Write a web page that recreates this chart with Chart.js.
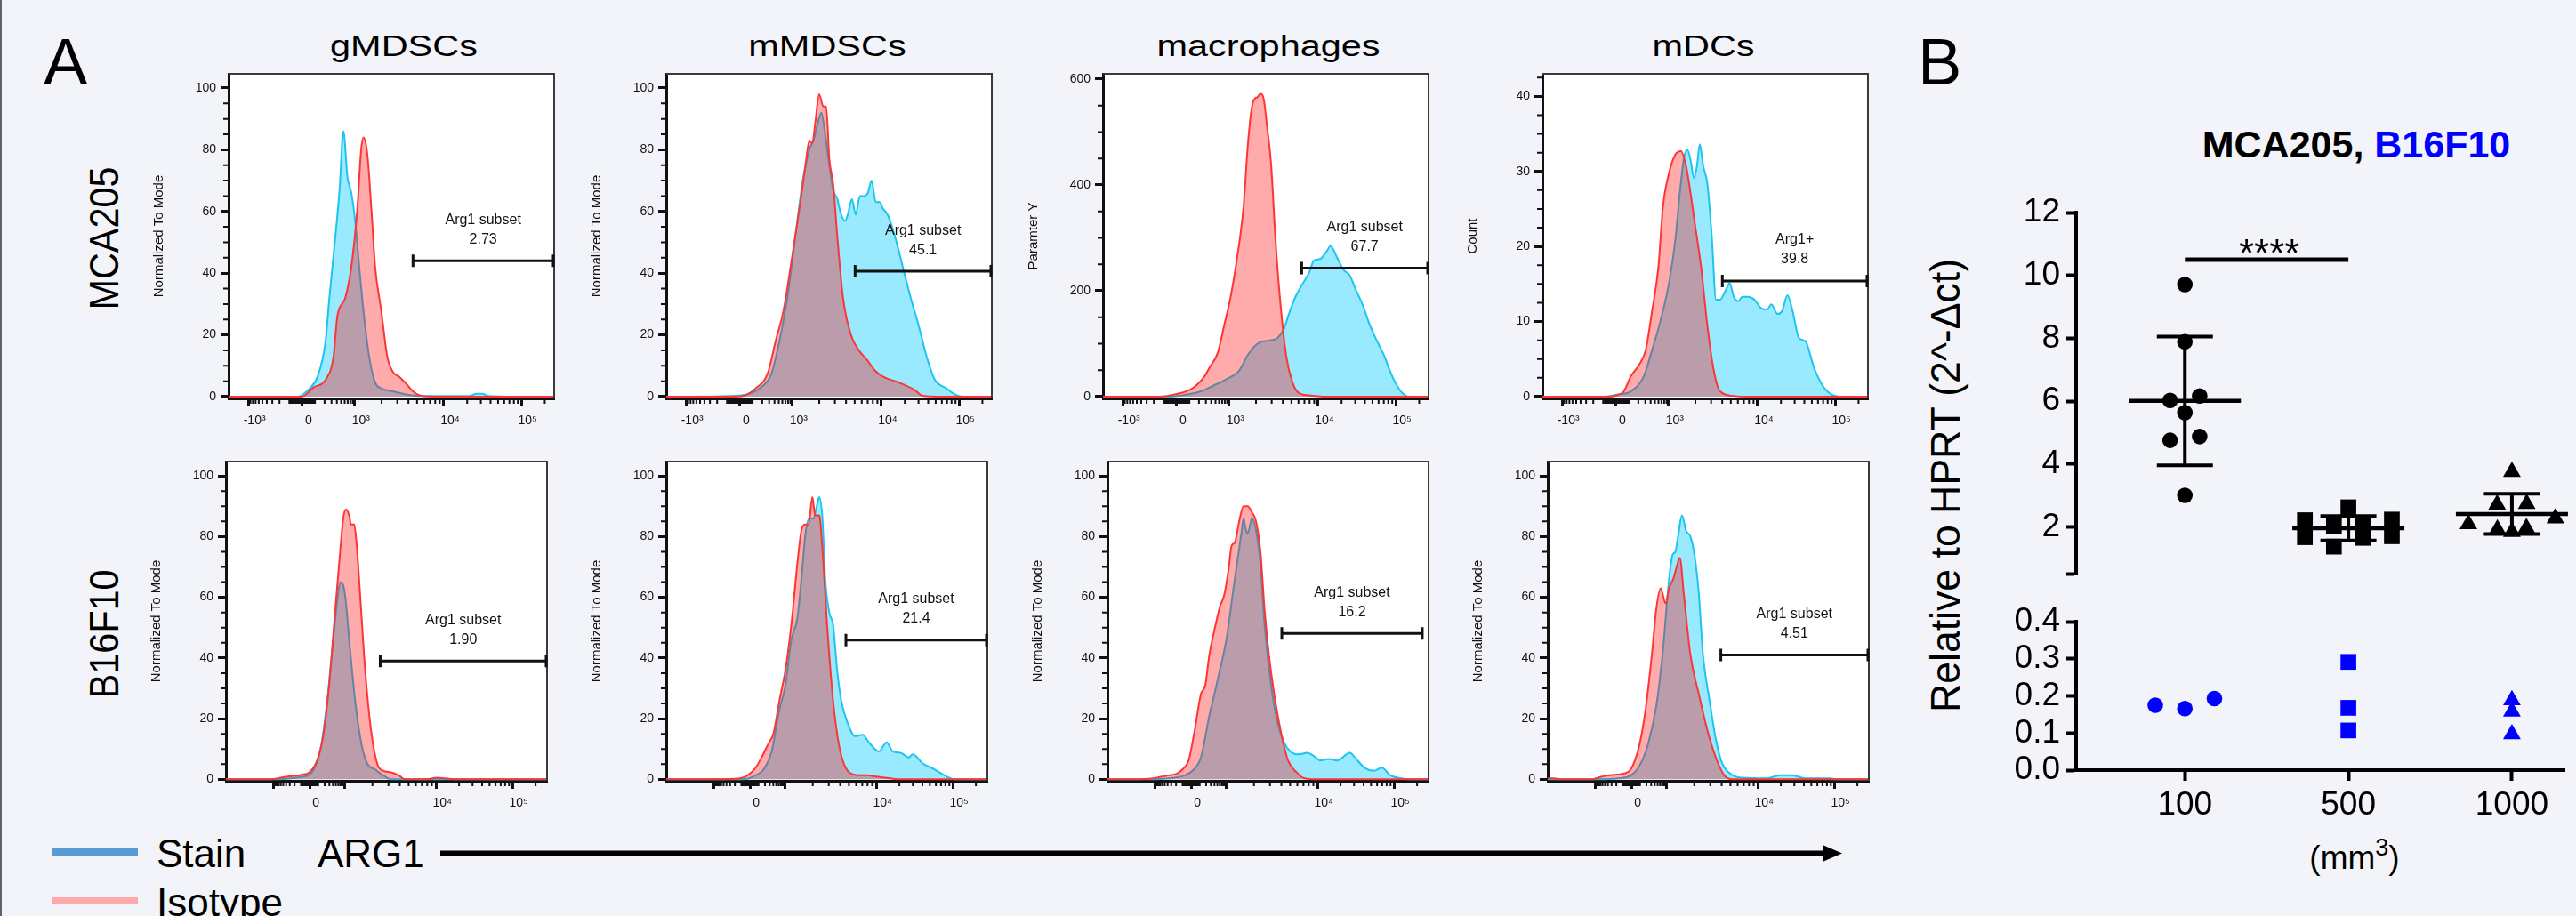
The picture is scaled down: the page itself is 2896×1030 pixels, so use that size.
<!DOCTYPE html>
<html>
<head>
<meta charset="utf-8">
<title>ARG1 expression in myeloid cells</title>
<script src="https://cdn.jsdelivr.net/npm/chart.js@4.4.1/dist/chart.umd.min.js"></script>
<style>
  html, body { margin: 0; padding: 0; }
  body { width: 2896px; height: 1030px; overflow: hidden; background: #f3f4f9; position: relative; }
  canvas { position: absolute; }
  #overlay { position: absolute; left: 0; top: 0; font-family: 'Liberation Sans', Arial, sans-serif; white-space: pre; }
</style>
</head>
<body>
<svg id="overlay" width="2896" height="1030"></svg>
<script>
// ---------- Panel A : ARG1 histograms (x = display channel 0-1024, y = % of mode or count) ----------
const cellTypes = ['gMDSCs', 'mMDSCs', 'macrophages', 'mDCs'];
const tumorLines = ['MCA205', 'B16F10'];
const seriesNames = ['Stain', 'Isotype'];
const yTitles = ['Normalized To Mode', 'Normalized To Mode', 'Paramter Y', 'Count',
                 'Normalized To Mode', 'Normalized To Mode', 'Normalized To Mode', 'Normalized To Mode'];
const gateNames = ['Arg1 subset', 'Arg1 subset', 'Arg1 subset', 'Arg1+',
                   'Arg1 subset', 'Arg1 subset', 'Arg1 subset', 'Arg1 subset'];
const gateValues = ['2.73', '45.1', '67.7', '39.8', '1.90', '21.4', '16.2', '4.51'];

// channel of -10^3, 0, 10^3, 10^4, 10^5 on each row's axis
const row1Decades = [62, 232, 397, 677, 921];
const row2Decades = [153, 267, 380, 670, 914];
const row1Labels = ['-10³', '0', '10³', '10⁴', '10⁵'];
const row2Labels = ['', '0', '', '10⁴', '10⁵'];
const pctTicks = [0, 20, 40, 60, 80, 100];
const macroTicks = [0, 200, 400, 600];
const dcTicks = [0, 10, 20, 30, 40];

// MCA205 row
const gmdscMcaStain = [[0,0],[217,0],[255,2.7],[280,6.5],[305,18],[317,32],[336,52],[349,67],[361,86],[374,71],[386,66],[399,56],[411,42],[424,28],[442,13],[461,4.6],[480,2.7],[517,1.7],[555,0.8],[605,0.2],[755,0.2],[780,0.9],[799,0.9],[817,0.2],[905,0],[1024,0]];
const gmdscMcaIso = [[0,0],[230,0],[267,3],[305,5.5],[330,13],[342,26],[367,32],[386,42],[405,61],[417,80],[424,84],[436,79],[449,61],[461,42],[480,28],[499,13],[517,8],[536,6.5],[555,4.6],[580,1.7],[605,0.3],[655,0],[1024,0]];
const gmdscMcaGate = [580, 1024, 44];

const mmdscMcaStain = [[0,0],[219,0.3],[256,0.8],[294,2.7],[331,7.5],[356,18],[381,32],[406,52],[431,71],[450,80],[463,83],[475,88],[488,92],[500,85],[513,75],[525,67],[538,64],[550,59],[563,57],[571,59],[584,64],[596,59],[609,65],[625,65],[634,66],[646,70],[659,63],[671,63],[681,61],[696,59],[719,52],[744,42],[769,32],[794,23],[819,13],[844,5.6],[881,2.7],[906,0.8],[931,0],[1024,0]];
const mmdscMcaIso = [[0,0],[206,0],[244,0.3],[281,2.7],[319,7.5],[344,18],[369,28],[394,44],[419,61],[438,75],[450,83],[459,82],[469,89],[481,98],[494,94],[503,94],[513,77],[525,69],[538,52],[556,32],[581,20],[606,15],[631,12],[656,8.5],[681,6.5],[731,4.6],[781,2.2],[806,0.3],[869,0],[1024,0]];
const mmdscMcaGate = [594, 1024, 40.6];

const macroMcaStain = [[0,0],[210,0],[243,2],[308,10],[348,21],[388,33],[428,49],[455,78],[475,94],[495,103],[522,106],[549,111],[569,128],[582,151],[602,184],[622,207],[649,235],[663,257],[683,260],[703,274],[716,285],[736,263],[756,240],[776,229],[796,201],[817,173],[837,139],[857,111],[884,78],[910,38],[937,10],[964,0],[1024,0]];
const macroMcaIso = [[0,0],[176,0],[232,5],[282,16],[319,38],[335,55],[361,83],[381,134],[402,190],[422,263],[442,358],[455,471],[466,538],[475,561],[486,566],[495,572],[506,561],[515,516],[529,437],[542,302],[556,190],[576,78],[596,27],[616,7],[656,2],[696,0],[1024,0]];
const macroMcaGate = [625, 1024, 243];

const mdcMcaStain = [[0,0],[198,0],[238,0.3],[278,0.7],[319,2.7],[345,6.2],[372,10.2],[399,15.3],[419,21.2],[432,27.1],[446,31.9],[456,32.9],[466,31.5],[477,29.1],[486,30.7],[495,33.6],[506,30.7],[519,28.3],[533,21.2],[546,12.9],[559,12.9],[576,14.1],[589,15.1],[602,13.3],[616,12.7],[629,13.3],[647,13.3],[667,12.9],[687,11.8],[707,11.6],[720,12.3],[740,11],[754,11.4],[771,13.5],[787,11.4],[807,7.8],[827,7.4],[854,3.9],[881,1.5],[908,0.3],[941,0],[1024,0]];
const mdcMcaIso = [[0,0],[198,0],[252,0.5],[278,2.7],[305,4.3],[325,6.2],[345,11.4],[365,17.3],[379,25.2],[399,29.9],[419,32.3],[436,32.7],[452,30.7],[466,27.1],[479,23.2],[499,17.3],[519,9.4],[539,3.5],[559,0.7],[600,0.1],[640,0],[1024,0]];
const mdcMcaGate = [566, 1024, 15.4];

// B16F10 row
const gmdscB16Stain = [[0,0],[165,0],[241,0.8],[266,1.5],[285,4.3],[304,11.2],[323,26],[342,46],[355,59],[365,65],[374,64],[383,58],[393,46],[412,26],[431,12.2],[450,5.3],[475,3.3],[501,1.3],[526,0],[1024,0]];
const gmdscB16Iso = [[0,0],[139,0],[190,0.8],[241,1.5],[266,2.3],[291,6.2],[310,14.2],[329,31],[348,55],[365,76],[374,86],[383,89],[393,87],[399,84],[409,84],[418,76],[431,56],[444,36],[463,16],[482,5.3],[501,2.8],[526,2.3],[551,1.3],[570,0],[640,0],[672,0.5],[700,0.3],[735,0],[1024,0]];
const gmdscB16Gate = [492, 1024, 39];

const mmdscB16Stain = [[0,0],[247,0],[285,1.3],[311,3.3],[336,9.2],[361,23],[380,31],[399,46],[418,53],[431,66],[444,81],[456,86],[469,86],[482,91],[488,93],[498,86],[507,66],[520,55],[532,51],[545,36],[558,26],[577,19],[602,14.2],[627,14.7],[646,12.2],[678,9.2],[703,12.2],[722,9.2],[748,8.7],[773,7.2],[786,8.2],[817,5.3],[855,3.3],[887,1.3],[919,0],[1024,0]];
const mmdscB16Iso = [[0,0],[152,0],[235,0.3],[260,1.3],[285,3.8],[304,7.2],[323,11.2],[342,15.2],[361,26],[380,36],[399,51],[418,71],[431,82],[444,84],[454,84],[466,93],[475,87],[488,87],[498,76],[513,51],[532,26],[551,11.2],[570,4.3],[602,1.5],[640,1.3],[678,0.8],[716,0.3],[741,0],[1024,0]];
const mmdscB16Gate = [573, 1024, 45.9];

const macroB16Stain = [[0,0],[145,0],[195,0.3],[246,1.3],[271,2.8],[298,7.2],[325,21],[352,33],[379,46],[406,66],[427,81],[434,86],[440,83],[447,81],[461,86],[474,82],[488,71],[501,51],[522,31],[542,19],[563,12.2],[583,9.2],[610,8.2],[637,8.7],[658,7.7],[678,6.2],[705,6.7],[732,6.2],[773,8.7],[793,6.7],[820,3.8],[848,2.8],[875,3.8],[902,1.3],[936,0.3],[963,0],[1024,0]];
const macroB16Iso = [[0,0],[88,0],[145,0.3],[170,0.8],[195,1.3],[221,1.8],[240,3.3],[259,6.2],[278,16],[298,28],[312,31],[325,41],[345,51],[359,57],[373,61],[386,69],[396,77],[406,78],[420,85],[434,90],[447,90],[461,88],[474,85],[488,75],[501,56],[515,41],[535,26],[556,14.2],[576,6.2],[603,2.3],[624,0.5],[664,0],[1024,0]];
const macroB16Gate = [556, 1004, 48.1];

const mdcB16Stain = [[0,0],[156,0],[224,0.3],[265,1.3],[292,4.3],[319,11.2],[346,24],[366,41],[387,66],[398,74],[407,75],[417,81],[428,87],[441,82],[455,80],[468,74],[482,61],[495,41],[516,26],[536,13.2],[556,5.3],[577,2.3],[617,0.5],[699,0.3],[740,1.3],[780,1.3],[821,0.3],[902,0.3],[916,0],[1024,0]];
const mdcB16Iso = [[0,0.3],[20,0.3],[40,0],[142,0],[170,0.8],[197,1.3],[237,1.8],[265,3.3],[292,11.2],[312,23],[332,41],[346,56],[360,63],[376,58],[387,63],[400,66],[411,70],[421,73],[434,61],[455,41],[482,28],[509,16.2],[536,7.2],[563,1.3],[590,0],[1024,0]];
const mdcB16Gate = [552, 1024, 41];

// ---------- Panel B : Arg1 mRNA vs tumour size ----------
const tumorSizes = ['100', '500', '1000'];
const mca100 = [9.71, 7.89, 6.17, 6.03, 5.64, 4.88, 4.76, 3.01];
const mca500 = [2.63, 2.24, 2.22, 2.13, 2.03, 1.71, 1.68, 1.66, 1.38];
const mca1000 = [3.76, 2.74, 2.72, 2.28, 2.10, 1.97, 1.93, 1.85];
const b16100 = [0.193, 0.175, 0.166];
const b16500 = [0.292, 0.168, 0.107];
const b161000 = [0.189, 0.158, 0.097];
const upperTicks = [2, 4, 6, 8, 10, 12];
const lowerTicks = [0, 0.1, 0.2, 0.3, 0.4];
const sigStars = '****';
const sigLevel = 10.5;

// ---------- styles / layout ----------
Chart.defaults.font.family = "'Liberation Sans', Arial, sans-serif";
Chart.defaults.color = '#111';
Chart.defaults.animation = false;
Chart.defaults.responsive = false;
Chart.defaults.devicePixelRatio = 1;
Chart.defaults.plugins.legend.display = false;
Chart.defaults.plugins.tooltip.enabled = false;

const isoLine = '#ff3434', isoFill = 'rgba(255,0,0,0.33)';
const stainLine = '#1cc4f0', stainFill = 'rgba(0,200,255,0.4)';
const rowBoxes = [
  { top: 83, height: 365, width: 366, lefts: [257, 749, 1240, 1734] },
  { top: 519, height: 359, width: 361, lefts: [254, 749, 1245, 1740] }
];
const yAxes = [
  { min: -0.58, max: 104.6, ticks: pctTicks, minor: 5 },
  { min: -0.58, max: 104.6, ticks: pctTicks, minor: 5 },
  { min: -3.4, max: 610, ticks: macroTicks, minor: 50 },
  { min: -0.24, max: 43, ticks: dcTicks, minor: 2.5 },
  { min: -0.5, max: 104.75, ticks: pctTicks, minor: 5 },
  { min: -0.5, max: 104.75, ticks: pctTicks, minor: 5 },
  { min: -0.5, max: 104.75, ticks: pctTicks, minor: 5 },
  { min: -0.5, max: 104.75, ticks: pctTicks, minor: 5 }
];

function makeCanvas(left, top, w, h) {
  const c = document.createElement('canvas');
  c.width = w; c.height = h;
  c.style.left = left + 'px'; c.style.top = top + 'px';
  c.style.width = w + 'px'; c.style.height = h + 'px';
  document.body.appendChild(c);
  return c;
}

// log-decade and linear-region minor ticks of a biexponential axis
function flowMinor(d) {
  const out = [];
  const lin = v => Math.asinh(v / 150) / Math.asinh(1000 / 150);
  [10, 20, 30, 40, 50, 60, 70, 80, 90, 100, 200, 300, 400, 500, 600, 700, 800, 900].forEach(v => {
    out.push(d[1] + (d[2] - d[1]) * lin(v));
    out.push(d[1] - (d[1] - d[0]) * lin(v));
  });
  [[d[2], d[3]], [d[3], d[4]], [d[4], 2 * d[4] - d[3]]].forEach(([a, b]) => {
    for (let m = 2; m <= 9; m++) out.push(a + Math.log10(m) * (b - a));
  });
  return out.filter(v => v > 0 && v < 1024);
}

const flowPlugin = {
  id: 'flow',
  beforeDraw(chart) {
    const { ctx, chartArea: a } = chart;
    ctx.save();
    ctx.fillStyle = '#fff';
    ctx.fillRect(a.left, a.top, a.right - a.left, a.bottom - a.top);
    ctx.restore();
  },
  afterDraw(chart, args, o) {
    const { ctx, chartArea: a, scales: { x, y } } = chart;
    ctx.save();
    ctx.strokeStyle = '#3a3a3a'; ctx.lineWidth = 2;
    ctx.beginPath();
    ctx.moveTo(a.left, a.top); ctx.lineTo(a.right, a.top); ctx.lineTo(a.right, a.bottom);
    ctx.stroke();
    ctx.strokeStyle = '#111'; ctx.lineWidth = 2;
    ctx.beginPath();
    o.yMinor.forEach(v => { const p = y.getPixelForValue(v); ctx.moveTo(a.left - 6, p); ctx.lineTo(a.left, p); });
    o.xMinor.forEach(v => { const p = x.getPixelForValue(v); ctx.moveTo(p, a.bottom); ctx.lineTo(p, a.bottom + 6); });
    ctx.stroke();
    // gate
    const g = o.gate;
    const x1 = x.getPixelForValue(g[0]), x2 = Math.min(x.getPixelForValue(g[1]), a.right - 1), gy = y.getPixelForValue(g[2]);
    ctx.strokeStyle = '#111'; ctx.lineWidth = 3;
    ctx.beginPath();
    ctx.moveTo(x1, gy); ctx.lineTo(x2, gy);
    ctx.moveTo(x1, gy - 7); ctx.lineTo(x1, gy + 7);
    ctx.moveTo(x2, gy - 7); ctx.lineTo(x2, gy + 7);
    ctx.stroke();
    ctx.fillStyle = '#111';
    ctx.font = "16px 'Liberation Sans', Arial, sans-serif";
    ctx.textAlign = 'center'; ctx.textBaseline = 'middle';
    ctx.fillText(o.name, (x1 + x2) / 2, gy - 46);
    ctx.fillText(o.value, (x1 + x2) / 2, gy - 24);
    ctx.restore();
  }
};

function histogram(row, col, stain, iso, gate) {
  const k = row * 4 + col;
  const rb = rowBoxes[row];
  const padL = 95, padT = 14, padR = 10, padB = 45;
  const cv = makeCanvas(rb.lefts[col] - padL, rb.top - padT, rb.width + padL + padR, rb.height + padT + padB);
  const ya = yAxes[k];
  const dec = row === 0 ? row1Decades : row2Decades;
  const labs = row === 0 ? row1Labels : row2Labels;
  const yMinor = [];
  for (let v = ya.minor; v <= ya.max; v += ya.minor) if (!ya.ticks.includes(v)) yMinor.push(v);
  const line = (d, c, f) => ({ data: d, borderColor: c, backgroundColor: f, fill: 'origin', borderWidth: 2,
    pointRadius: 0, cubicInterpolationMode: 'monotone' });
  new Chart(cv, {
    type: 'line',
    data: { datasets: [
      Object.assign(line(iso, isoLine, isoFill), { label: seriesNames[1] }),
      Object.assign(line(stain, stainLine, stainFill), { label: seriesNames[0] })
    ] },
    options: {
      layout: { padding: { left: 0, top: padT, right: padR, bottom: 0 } },
      scales: {
        x: {
          type: 'linear', min: 0, max: 1024,
          afterBuildTicks: s => { s.ticks = dec.map(v => ({ value: v })); },
          afterFit: s => { s.height = padB; },
          ticks: { callback: (v, i) => labs[i], autoSkip: false, maxRotation: 0, padding: 8, labelOffset: 7,
                   font: { size: 14 }, color: '#111' },
          grid: { drawOnChartArea: false, tickLength: 9, tickWidth: 3, tickColor: '#111' },
          border: { width: 3, color: '#111' }
        },
        y: {
          min: ya.min, max: ya.max,
          afterBuildTicks: s => { s.ticks = ya.ticks.map(v => ({ value: v })); },
          afterFit: s => { s.width = padL; },
          ticks: { callback: v => String(v), autoSkip: false, padding: 5, font: { size: 14 }, color: '#111' },
          grid: { drawOnChartArea: false, tickLength: 9, tickWidth: 3, tickColor: '#111' },
          border: { width: 3, color: '#111' },
          title: { display: true, text: yTitles[k], font: { size: 15 }, color: '#111', padding: { top: 8, bottom: 0 } }
        }
      },
      plugins: { flow: { yMinor, xMinor: flowMinor(dec), gate, name: gateNames[k], value: gateValues[k] } }
    },
    plugins: [flowPlugin]
  });
}

histogram(0, 0, gmdscMcaStain, gmdscMcaIso, gmdscMcaGate);
histogram(0, 1, mmdscMcaStain, mmdscMcaIso, mmdscMcaGate);
histogram(0, 2, macroMcaStain, macroMcaIso, macroMcaGate);
histogram(0, 3, mdcMcaStain, mdcMcaIso, mdcMcaGate);
histogram(1, 0, gmdscB16Stain, gmdscB16Iso, gmdscB16Gate);
histogram(1, 1, mmdscB16Stain, mmdscB16Iso, mmdscB16Gate);
histogram(1, 2, macroB16Stain, macroB16Iso, macroB16Gate);
histogram(1, 3, mdcB16Stain, mdcB16Iso, mdcB16Gate);

// ---------- Panel B charts (broken y axis = two stacked charts sharing x) ----------
const bLeft = 2264, bAxisW = 70, bRight = 2896;
const xMin = -0.665, xMax = 2.324;
const pxPerCat = (bRight - bLeft - bAxisW) / (xMax - xMin);
const upperPxPerY = (661 - 239) / (12 - 0.5);
const lowerPxPerY = (866 - 693) / 0.4;
const markerStyles = ['circle', 'rect', 'triangle'];
const markerRadii = [8.8, 12.5, 11.5];

// Prism-like column scatter: points of similar height share a row and spread sideways
function swarm(vals, center, pxX, pxY) {
  const idx = vals.map((v, i) => i).sort((a, b) => vals[b] - vals[a]);
  const out = [];
  let i = 0;
  while (i < idx.length) {
    const row = [idx[i]];
    const top = vals[idx[i]] * pxY;
    let j = i + 1;
    while (j < idx.length && top - vals[idx[j]] * pxY < 13) { row.push(idx[j]); j++; }
    const n = row.length;
    const step = n > 1 ? Math.min(34, 100 / (n - 1)) : 0;
    const slots = [];
    for (let s = 0; s < n; s++) slots.push((s - (n - 1) / 2) * step);
    slots.sort((a, b) => Math.abs(a) - Math.abs(b) || a - b);
    row.sort((a, b) => vals[a] - vals[b]);
    row.forEach((r, s) => out.push({ x: center + slots[s] / pxX, y: vals[r] }));
    i = j;
  }
  return out;
}

const mcaGroups = [mca100, mca500, mca1000];
const b16Groups = [b16100, b16500, b161000];

const statsPlugin = {
  id: 'stats',
  afterDatasetsDraw(chart) {
    const { ctx, scales: { x, y } } = chart;
    ctx.save();
    ctx.strokeStyle = '#000'; ctx.fillStyle = '#000';
    mcaGroups.forEach((vals, g) => {
      const m = vals.reduce((s, v) => s + v, 0) / vals.length;
      const sd = Math.sqrt(vals.reduce((s, v) => s + (v - m) ** 2, 0) / (vals.length - 1));
      const cx = x.getPixelForValue(g);
      const ym = y.getPixelForValue(m), yt = y.getPixelForValue(m + sd), yb = y.getPixelForValue(m - sd);
      ctx.lineWidth = 4.5;
      ctx.beginPath(); ctx.moveTo(cx - 63, ym); ctx.lineTo(cx + 63, ym); ctx.stroke();
      ctx.lineWidth = 4;
      ctx.beginPath();
      ctx.moveTo(cx, yt); ctx.lineTo(cx, yb);
      ctx.moveTo(cx - 31.5, yt); ctx.lineTo(cx + 31.5, yt);
      ctx.moveTo(cx - 31.5, yb); ctx.lineTo(cx + 31.5, yb);
      ctx.stroke();
    });
    const x1 = x.getPixelForValue(0), x2 = x.getPixelForValue(1), sy = y.getPixelForValue(sigLevel);
    ctx.lineWidth = 5;
    ctx.beginPath(); ctx.moveTo(x1, sy); ctx.lineTo(x2, sy); ctx.stroke();
    ctx.font = "44px 'Liberation Sans', Arial, sans-serif";
    ctx.textAlign = 'center'; ctx.textBaseline = 'alphabetic';
    ctx.fillText(sigStars, (x1 + x2) / 2 + 3, sy + 8);
    ctx.restore();
  }
};

const bAxisY = (range, ticks, fmt) => ({
  min: range[0], max: range[1],
  afterBuildTicks: s => { s.ticks = ticks.map(v => ({ value: v })); },
  afterFit: s => { s.width = bAxisW; },
  ticks: { callback: fmt, autoSkip: false, font: { size: 37 }, color: '#000', padding: 7 },
  grid: { drawOnChartArea: false, tickLength: 11, tickWidth: 4, tickColor: '#000' },
  border: { width: 4, color: '#000' }
});

const upperCanvas = makeCanvas(bLeft, 200, bRight - bLeft, 475);
new Chart(upperCanvas, {
  type: 'scatter',
  data: { datasets: mcaGroups.map((vals, g) => ({
    label: tumorLines[0] + ' ' + tumorSizes[g],
    data: swarm(vals, g, pxPerCat, upperPxPerY),
    pointStyle: markerStyles[g], pointRadius: markerRadii[g],
    backgroundColor: '#000', borderWidth: 0, clip: false
  })) },
  options: {
    layout: { padding: { left: 0, right: 0, top: 39, bottom: 14 } },
    scales: {
      x: { type: 'linear', display: false, min: xMin, max: xMax },
      y: bAxisY([0.5, 12], [0.5].concat(upperTicks), v => (v === 0.5 ? '' : String(v)))
    }
  },
  plugins: [statsPlugin]
});

const lowerCanvas = makeCanvas(bLeft, 670, bRight - bLeft, 340);
new Chart(lowerCanvas, {
  type: 'scatter',
  data: { datasets: b16Groups.map((vals, g) => ({
    label: tumorLines[1] + ' ' + tumorSizes[g],
    data: swarm(vals, g, pxPerCat, lowerPxPerY),
    pointStyle: markerStyles[g], pointRadius: markerRadii[g],
    backgroundColor: '#0000ff', borderWidth: 0, clip: false
  })) },
  options: {
    layout: { padding: { left: 0, right: 0, top: 23, bottom: 0 } },
    scales: {
      x: {
        type: 'linear', min: xMin, max: xMax,
        afterBuildTicks: s => { s.ticks = tumorSizes.map((t, i) => ({ value: i })); },
        afterFit: s => { s.height = 144; },
        ticks: { callback: (v, i) => tumorSizes[i], font: { size: 37 }, color: '#000', padding: 6, autoSkip: false, maxRotation: 0 },
        grid: { drawOnChartArea: false, tickLength: 12, tickWidth: 4, tickColor: '#000' },
        border: { width: 4, color: '#000' }
      },
      y: bAxisY([0, 0.4], lowerTicks, v => v.toFixed(1))
    }
  }
});

// ---------- figure text, legend and ARG1 arrow ----------
const titleX = [454, 930, 1426, 1915];
const rowLabelY = [268, 713];
const legendColors = ['#5b9bd5', '#ffaaaa'];
const parts = [];
parts.push('<rect x="0" y="0" width="2" height="1030" fill="#5d6270"/>');
parts.push('<text x="49" y="95" font-size="74">A</text>');
parts.push('<text x="2156" y="95" font-size="74">B</text>');
cellTypes.forEach((t, i) => parts.push(
  `<text transform="translate(${titleX[i]},63) scale(1.22,1)" text-anchor="middle" font-size="34">${t}</text>`));
tumorLines.forEach((t, i) => parts.push(
  `<text transform="translate(117,${rowLabelY[i]}) rotate(-90) scale(0.9,1)" text-anchor="middle" dominant-baseline="central" font-size="46">${t}</text>`));
seriesNames.forEach((s, i) => {
  parts.push(`<rect x="59" y="${954 + i * 55}" width="96" height="8" fill="${legendColors[i]}"/>`);
  parts.push(`<text x="176" y="${975 + i * 55}" font-size="44">${s}</text>`);
});
parts.push('<text x="357" y="975" font-size="44">ARG1</text>');
parts.push('<rect x="495" y="956.5" width="1558" height="6" fill="#000"/>');
parts.push('<polygon points="2049,950 2071,959.5 2049,969" fill="#000"/>');
parts.push(`<text x="2649" y="177" text-anchor="middle" font-size="43" font-weight="bold"><tspan fill="#000">${tumorLines[0]}, </tspan><tspan fill="#0000ff">${tumorLines[1]}</tspan></text>`);
parts.push('<text transform="translate(2187,546) rotate(-90) scale(0.97,1)" text-anchor="middle" dominant-baseline="central" font-size="46">Relative to HPRT (2^-Δct)</text>');
parts.push('<text x="2647" y="977" text-anchor="middle" font-size="37">(mm<tspan font-size="27" dy="-15">3</tspan><tspan dy="15">)</tspan></text>');
document.getElementById('overlay').innerHTML = parts.join('');
</script>
</body>
</html>
